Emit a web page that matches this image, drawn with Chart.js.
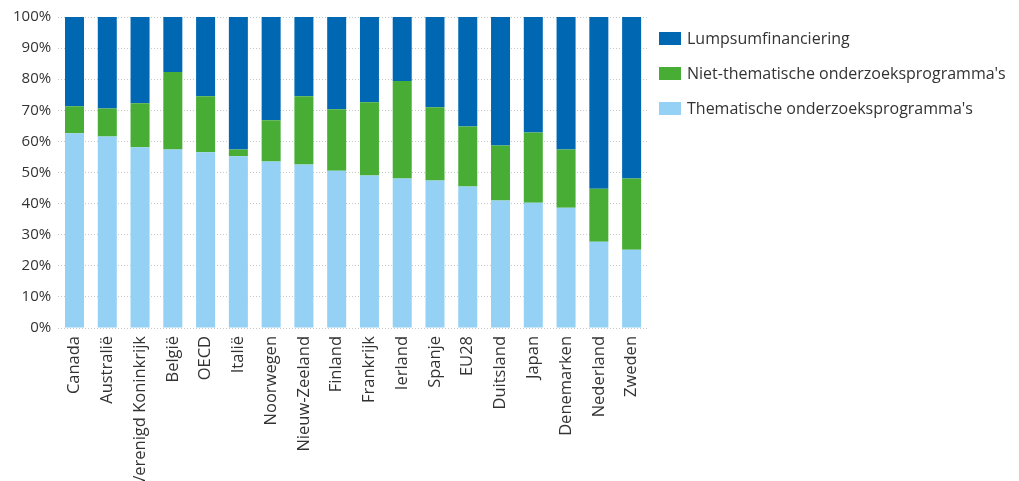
<!DOCTYPE html>
<html>
<head>
<meta charset="utf-8">
<script src="https://cdn.jsdelivr.net/npm/chart.js@4"></script>
<style>
  html, body { margin: 0; padding: 0; background: #fff; }
  #wrap { width: 1019px; height: 481px; position: relative; }
  #legend { position: absolute; left: 659px; top: 32px; margin: 0; padding: 0; list-style: none;
            font-family: "Open Sans", sans-serif; font-size: 16px; color: #333; }
  #legend li { height: 35px; display: flex; align-items: flex-start; white-space: nowrap; }
  #legend .box { width: 22px; height: 13px; margin-right: 6px; flex: none; }
  #legend .txt { line-height: 13px; }
</style>
</head>
<body>
<div id="wrap">
  <canvas id="fundingChart"></canvas>
  <ul id="legend"></ul>
</div>
<script>
// landen (volgorde zoals in de figuur)
const landen = ['Canada', 'Australië', 'Verenigd Koninkrijk', 'België', 'OECD', 'Italië', 'Noorwegen',
    'Nieuw-Zeeland', 'Finland', 'Frankrijk', 'Ierland', 'Spanje', 'EU28', 'Duitsland', 'Japan',
    'Denemarken', 'Nederland', 'Zweden'];

// aandelen in procenten
const thematisch = [62.6, 61.6, 58.1, 57.4, 56.5, 55.2, 53.5, 52.6, 50.6, 49.0, 48.1, 47.4, 45.5, 41.0, 40.3, 38.7, 27.7, 25.2];
const nietThematisch = [8.7, 9.0, 14.2, 24.9, 18.0, 2.2, 13.3, 21.9, 19.7, 23.6, 31.3, 23.6, 19.3, 17.7, 22.6, 18.7, 17.1, 22.9];
const lumpsum = [28.7, 29.4, 27.7, 17.7, 25.5, 42.6, 33.2, 25.5, 29.7, 27.4, 20.6, 29.0, 35.2, 41.3, 37.1, 42.6, 55.2, 51.9];

const yTicks = [0, 10, 20, 30, 40, 50, 60, 70, 80, 90, 100];

const fontFam = '"Open Sans", sans-serif';
const textColor = '#333333';

const ctx = document.getElementById('fundingChart').getContext('2d');
const chart = new Chart(ctx, {
    type: 'bar',
    data: {
        labels: landen,
        datasets: [
            { label: "Thematische onderzoeksprogramma's", data: thematisch, backgroundColor: '#94d1f4' },
            { label: "Niet-thematische onderzoeksprogramma's", data: nietThematisch, backgroundColor: '#47ad35' },
            { label: 'Lumpsumfinanciering', data: lumpsum, backgroundColor: '#0068b3' }
        ]
    },
    options: {
        responsive: true,
        maintainAspectRatio: false,
        animation: false,
        layout: { padding: { left: 6, top: 17, right: 371, bottom: 0 } },
        datasets: {
            bar: { categoryPercentage: 1.0, barPercentage: 0.58 }
        },
        plugins: {
            tooltip: { enabled: false },
            legend: { display: false }
        },
        scales: {
            x: {
                stacked: true,
                grid: { display: false },
                border: { display: false },
                ticks: {
                    minRotation: 90,
                    maxRotation: 90,
                    autoSkip: false,
                    padding: 0,
                    color: textColor,
                    font: { family: fontFam, size: 16.5 }
                },
                afterFit: axis => { axis.height = 153; }
            },
            y: {
                stacked: true,
                min: 0,
                max: 100,
                afterBuildTicks: axis => { axis.ticks = yTicks.map(v => ({ value: v })); },
                grid: {
                    color: '#c8c8c8',
                    lineWidth: 1,
                    drawTicks: false
                },
                border: { display: false, dash: [1, 2] },
                ticks: {
                    padding: 7,
                    color: textColor,
                    font: { family: fontFam, size: 15 },
                    callback: v => v + '%'
                }
            }
        }
    }
});

// legenda (omgekeerde volgorde, bovenste laag eerst)
const legendEl = document.getElementById('legend');
chart.data.datasets.slice().reverse().forEach(ds => {
    const li = document.createElement('li');
    li.innerHTML = `<span class="box" style="background:${ds.backgroundColor}"></span><span class="txt">${ds.label}</span>`;
    legendEl.appendChild(li);
});
</script>
</body>
</html>
